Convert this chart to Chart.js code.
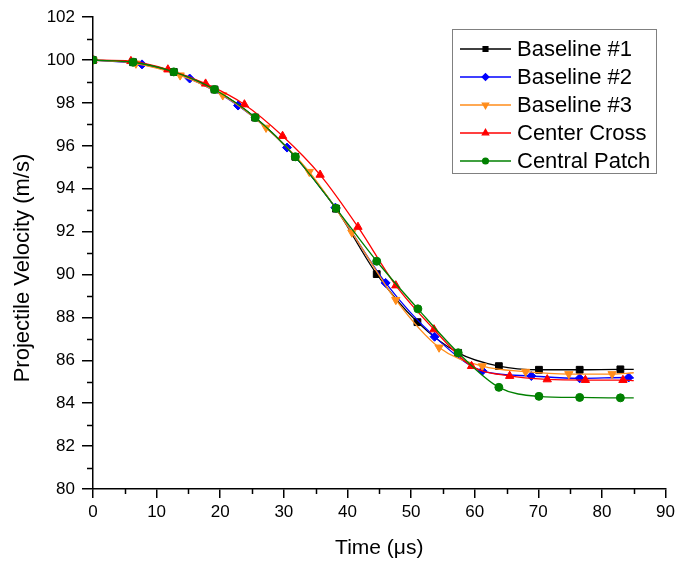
<!DOCTYPE html>
<html>
<head>
<meta charset="utf-8">
<script src="https://cdn.jsdelivr.net/npm/chart.js@4/dist/chart.umd.min.js"></script>
<style>
  html, body { margin: 0; padding: 0; background: #fff; }
  #wrap { width: 679px; height: 568px; }
</style>
</head>
<body>
<div id="wrap"><canvas id="c"></canvas></div>
<script>
// values, time in microseconds, velocity in m/s
const baseline1X = [0, 6.3, 12.7, 19.1, 25.5, 31.8, 38.2, 44.6, 51.0, 57.4, 63.8, 70.1, 76.5, 82.9, 85];
const baseline1Y = [100, 99.9, 99.45, 98.63, 97.32, 95.49, 93.07, 90.02, 87.78, 86.35, 85.73, 85.56, 85.56, 85.58, 85.58];

const baseline2X = [0, 7.7, 15.2, 22.8, 30.5, 38.1, 46.0, 53.7, 61.2, 68.9, 76.5, 84.2, 85];
const baseline2Y = [100, 99.8, 99.14, 97.88, 95.92, 93.12, 89.61, 87.10, 85.51, 85.27, 85.16, 85.2, 85.17];

const baseline3X = [0, 6.75, 13.7, 20.4, 27.2, 34.0, 40.7, 47.6, 54.4, 61.2, 68.0, 74.8, 81.6, 85];
const baseline3Y = [100, 99.84, 99.29, 98.36, 96.85, 94.79, 91.96, 88.82, 86.60, 85.73, 85.47, 85.36, 85.36, 85.42];

const crossX = [0, 5.96, 11.77, 17.7, 23.8, 29.8, 35.7, 41.65, 47.6, 53.6, 59.5, 65.5, 71.4, 77.4, 83.3, 85];
const crossY = [100, 99.95, 99.56, 98.9, 97.93, 96.46, 94.65, 92.22, 89.49, 87.44, 85.73, 85.27, 85.11, 85.08, 85.08, 85.05];

const patchX = [0, 6.3, 12.7, 19.1, 25.5, 31.8, 38.2, 44.6, 51.07, 57.4, 63.8, 70.1, 76.5, 82.9, 85];
const patchY = [100, 99.9, 99.45, 98.63, 97.32, 95.49, 93.09, 90.62, 88.40, 86.35, 84.74, 84.32, 84.27, 84.25, 84.25];

const seriesNames = ['Baseline #1', 'Baseline #2', 'Baseline #3', 'Center Cross', 'Central Patch'];
const seriesColors = ['#000000', '#0000ff', '#ff8c1a', '#ff0000', '#008000'];

const xTicks = [0, 10, 20, 30, 40, 50, 60, 70, 80, 90];
const yTicks = [80, 82, 84, 86, 88, 90, 92, 94, 96, 98, 100, 102];

const FONT = '"Liberation Sans", Arial, sans-serif';

function pts(xs, ys) {
  return xs.map((x, i) => ({ x: x, y: ys[i] }));
}

// marker style for each series; last point of each curve has no marker
const markers = [
  { style: 'rect', rot: 0, r: 4.8, lr: 3.4 },
  { style: 'rectRot', rot: 0, r: 4.5, lr: 3.3 },
  { style: 'triangle', rot: 180, r: 4.8, lr: 3.6 },
  { style: 'triangle', rot: 0, r: 4.8, lr: 3.6 },
  { style: 'circle', rot: 0, r: 4, lr: 2.9 }
];

function makeSet(i, xs, ys) {
  const m = markers[i];
  const last = xs.length - 1;
  return {
    label: seriesNames[i],
    data: pts(xs, ys),
    borderColor: seriesColors[i],
    backgroundColor: seriesColors[i],
    borderWidth: 1.3,
    pointStyle: m.style,
    rotation: m.rot,
    pointRadius: ctx => (ctx.dataIndex === last ? 0 : m.r),
    pointBorderWidth: 1,
    cubicInterpolationMode: 'monotone',
    order: 5 - i
  };
}

// short ticks between the labelled ones + rotated y title
const axisExtras = {
  id: 'axisExtras',
  afterDraw(chart) {
    const ctx = chart.ctx;
    const xs = chart.scales.x, ys = chart.scales.y;
    ctx.save();
    ctx.strokeStyle = '#000';
    ctx.lineWidth = 1.5;
    ctx.beginPath();
    for (let v = 5; v < 90; v += 10) {
      const px = Math.round(xs.getPixelForValue(v)) + 0.5;
      ctx.moveTo(px, ys.bottom);
      ctx.lineTo(px, ys.bottom + 5);
    }
    for (let v = 81; v < 102; v += 2) {
      const py = Math.round(ys.getPixelForValue(v)) + 0.5;
      ctx.moveTo(xs.left, py);
      ctx.lineTo(xs.left - 6, py);
    }
    ctx.stroke();

    ctx.translate(23, 268);
    ctx.rotate(-Math.PI / 2);
    ctx.fillStyle = '#000';
    ctx.font = '22px ' + FONT;
    ctx.textAlign = 'center';
    ctx.textBaseline = 'middle';
    ctx.fillText('Projectile Velocity (m/s)', 0, 0);
    ctx.restore();
  }
};

// boxed legend inside the plot, line sample with marker
const boxLegend = {
  id: 'boxLegend',
  afterDraw(chart) {
    const ctx = chart.ctx;
    const bx = 452, by = 29, bw = 204, bh = 144;
    ctx.save();
    ctx.fillStyle = '#fff';
    ctx.fillRect(bx, by, bw, bh);
    ctx.strokeStyle = '#808080';
    ctx.lineWidth = 1;
    ctx.strokeRect(bx + 0.5, by + 0.5, bw, bh);
    ctx.font = '22px ' + FONT;
    ctx.textBaseline = 'middle';
    chart.data.datasets.forEach((ds, i) => {
      const y = by + 20 + i * 28;
      ctx.strokeStyle = ds.borderColor;
      ctx.lineWidth = 1.3;
      ctx.beginPath();
      ctx.moveTo(bx + 8, y);
      ctx.lineTo(bx + 59, y);
      ctx.stroke();
      ctx.fillStyle = ds.backgroundColor;
      Chart.helpers.drawPoint(ctx, {
        pointStyle: markers[i].style,
        rotation: markers[i].rot,
        radius: markers[i].lr,
        borderWidth: 1
      }, bx + 33.5, y);
      ctx.fillStyle = '#000';
      ctx.fillText(ds.label, bx + 65, y + 1);
    });
    ctx.restore();
  }
};

new Chart(document.getElementById('c'), {
  type: 'line',
  data: {
    datasets: [
      makeSet(0, baseline1X, baseline1Y),
      makeSet(1, baseline2X, baseline2Y),
      makeSet(2, baseline3X, baseline3Y),
      makeSet(3, crossX, crossY),
      makeSet(4, patchX, patchY)
    ]
  },
  options: {
    responsive: true,
    maintainAspectRatio: false,
    animation: false,
    layout: { padding: { top: 17, right: 13, left: 0, bottom: 0 } },
    plugins: {
      legend: { display: false },
      tooltip: { enabled: false }
    },
    scales: {
      x: {
        type: 'linear',
        min: 0,
        max: 90,
        afterBuildTicks: s => { s.ticks = xTicks.map(v => ({ value: v })); },
        afterFit: s => { s.height = 79; },
        border: { color: '#000', width: 1.5 },
        grid: { drawOnChartArea: false, drawTicks: true, tickLength: 9, color: '#000', lineWidth: 1.5 },
        ticks: { color: '#000', font: { family: FONT, size: 17 }, padding: 4, maxRotation: 0 },
        title: { display: true, text: 'Time (μs)', color: '#000', font: { family: FONT, size: 21 }, padding: { top: 0, bottom: 7 } }
      },
      y: {
        type: 'linear',
        min: 80,
        max: 102,
        afterBuildTicks: s => { s.ticks = yTicks.map(v => ({ value: v })); },
        afterFit: s => { s.width = 93; },
        border: { color: '#000', width: 1.5 },
        grid: { drawOnChartArea: false, drawTicks: true, tickLength: 11, color: '#000', lineWidth: 1.5 },
        ticks: { color: '#000', font: { family: FONT, size: 17 }, padding: 7 },
        title: { display: false }
      }
    }
  },
  plugins: [axisExtras, boxLegend]
});
</script>
</body>
</html>
